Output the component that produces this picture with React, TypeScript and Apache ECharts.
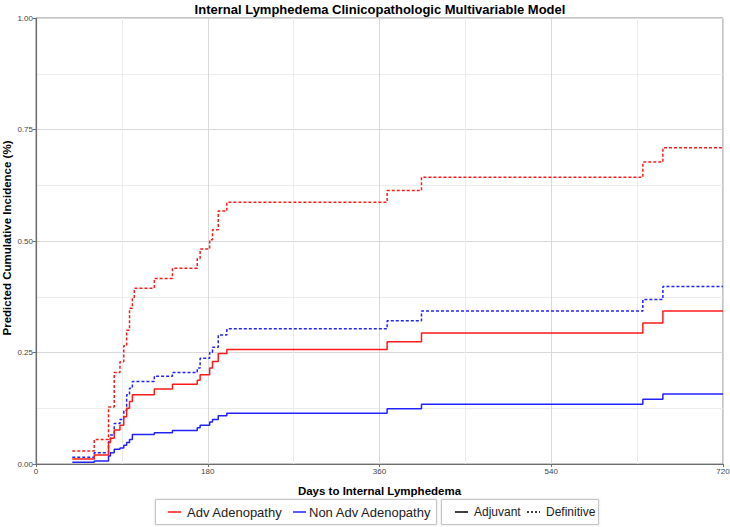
import React, { useEffect, useRef } from "react";
import * as echarts from "echarts";

const TITLE = "Internal Lymphedema Clinicopathologic Multivariable Model";
const X_TITLE = "Days to Internal Lymphedema";
const Y_TITLE = "Predicted Cumulative Incidence (%)";

// shared event times (days)
const days = [38, 61, 76, 78, 82, 88, 92, 95, 98, 101, 103, 124, 143, 169, 172, 182, 185, 191, 200, 368, 404, 636, 657, 720];

const advDefinitive = [0.029, 0.055, 0.128, 0.128, 0.205, 0.229, 0.265, 0.3, 0.349, 0.372, 0.394, 0.416, 0.439, 0.461, 0.482, 0.503, 0.525, 0.567, 0.587, 0.613, 0.643, 0.677, 0.709, 0.709];
const advAdjuvant = [0.011, 0.02, 0.048, 0.058, 0.076, 0.087, 0.106, 0.125, 0.14, 0.155, 0.155, 0.168, 0.179, 0.188, 0.2, 0.215, 0.23, 0.248, 0.257, 0.274, 0.294, 0.316, 0.343, 0.343];
const nonAdvDefinitive = [0.015, 0.025, 0.05, 0.065, 0.091, 0.1, 0.12, 0.155, 0.17, 0.185, 0.185, 0.197, 0.205, 0.215, 0.237, 0.25, 0.262, 0.289, 0.303, 0.321, 0.343, 0.369, 0.398, 0.398];
const nonAdvAdjuvant = [0.004, 0.007, 0.018, 0.025, 0.033, 0.036, 0.042, 0.048, 0.055, 0.066, 0.066, 0.07, 0.075, 0.081, 0.087, 0.094, 0.1, 0.108, 0.114, 0.124, 0.134, 0.145, 0.157, 0.157];

const groupLabels = ["Adv Adenopathy", "Non Adv Adenopathy"];
const treatLabels = ["Adjuvant", "Definitive"];

const RED = "#ff1a1a";
const BLUE = "#2222ff";
const FONT = "Liberation Sans, Arial, sans-serif";

function mk(name: string, vals: number[], color: string, dotted: boolean) {
  return {
    name,
    type: "line",
    step: "end",
    symbol: "none",
    data: days.map((d, i) => [d, vals[i]]),
    lineStyle: { color, width: 1.5, type: dotted ? [3, 2] : "solid" },
    itemStyle: { color },
  };
}

export default function App() {
  const ref = useRef<HTMLDivElement>(null);
  useEffect(() => {
    if (!ref.current) return;
    const chart = echarts.init(ref.current, null, { renderer: "svg" });
    const legendY = 512;
    const legendText = (x: number, t: string, size: number) => ({
      type: "text",
      x,
      y: legendY,
      style: { text: t, font: `${size}px ${FONT}`, fill: "#222", textVerticalAlign: "middle" },
    });
    const legendLine = (x: number, color: string, dotted: boolean) => ({
      type: "line",
      shape: { x1: x, y1: legendY, x2: x + 13, y2: legendY },
      style: { stroke: color, lineWidth: 1.5, lineDash: dotted ? [2, 2] : null },
    });
    chart.setOption({
      animation: false,
      backgroundColor: "#ffffff",
      grid: {
        left: 36,
        right: 7,
        top: 18,
        bottom: 63,
        outerBoundsMode: "none",
        containLabel: false,
        show: true,
        borderColor: "#8a8a8a",
        borderWidth: 1,
        backgroundColor: "#ffffff",
      },
      xAxis: {
        type: "value",
        min: 0,
        max: 720,
        interval: 180,
        name: X_TITLE,
        nameLocation: "middle",
        nameGap: 21,
        nameTextStyle: { fontFamily: FONT, fontSize: 11.5, fontWeight: "bold", color: "#000" },
        axisLine: { show: true, lineStyle: { color: "#6e6e6e", width: 1.2 } },
        axisTick: { show: true, length: 3, lineStyle: { color: "#6e6e6e" } },
        axisLabel: { fontFamily: FONT, fontSize: 8, color: "#444", margin: 3 },
        splitLine: { show: true, lineStyle: { color: "#d9d9d9", width: 1 } },
        minorTick: { show: false, splitNumber: 2 },
        minorSplitLine: { show: true, lineStyle: { color: "#ececec", width: 1 } },
      },
      yAxis: {
        type: "value",
        min: 0,
        max: 1,
        interval: 0.25,
        axisLine: { show: true, lineStyle: { color: "#6e6e6e", width: 1.2 } },
        axisTick: { show: true, length: 3, lineStyle: { color: "#6e6e6e" } },
        axisLabel: {
          fontFamily: FONT,
          fontSize: 8,
          color: "#444",
          margin: 3,
          formatter: (v: number) => v.toFixed(2),
        },
        splitLine: { show: true, lineStyle: { color: "#d9d9d9", width: 1 } },
        minorTick: { show: false, splitNumber: 2 },
        minorSplitLine: { show: true, lineStyle: { color: "#ececec", width: 1 } },
      },
      series: [
        mk("Non Adv Adenopathy - Adjuvant", nonAdvAdjuvant, BLUE, false),
        mk("Non Adv Adenopathy - Definitive", nonAdvDefinitive, BLUE, true),
        mk("Adv Adenopathy - Adjuvant", advAdjuvant, RED, false),
        mk("Adv Adenopathy - Definitive", advDefinitive, RED, true),
      ],
      graphic: [
        {
          type: "text",
          x: 380,
          y: 9,
          style: {
            text: TITLE,
            font: `bold 13px ${FONT}`,
            fill: "#000",
            textAlign: "center",
            textVerticalAlign: "middle",
          },
        },
        {
          type: "text",
          x: 7,
          y: 238,
          rotation: Math.PI / 2,
          style: {
            text: Y_TITLE,
            font: `bold 11.5px ${FONT}`,
            fill: "#000",
            textAlign: "center",
            textVerticalAlign: "middle",
          },
        },
        {
          type: "rect",
          shape: { x: 155.5, y: 499.5, width: 281, height: 25 },
          style: { fill: "#fff", stroke: "#c4c4c4", lineWidth: 1, shadowBlur: 2, shadowColor: "rgba(0,0,0,0.15)" },
        },
        {
          type: "rect",
          shape: { x: 441.5, y: 499.5, width: 157, height: 25 },
          style: { fill: "#fff", stroke: "#c4c4c4", lineWidth: 1, shadowBlur: 2, shadowColor: "rgba(0,0,0,0.15)" },
        },
        legendLine(168, RED, false),
        legendText(187, groupLabels[0], 13),
        legendLine(293, BLUE, false),
        legendText(309, groupLabels[1], 13),
        legendLine(455, "#000", false),
        legendText(474, treatLabels[0], 12),
        legendLine(527, "#000", true),
        legendText(546, treatLabels[1], 12),
      ],
    });
    return () => chart.dispose();
  }, []);
  return (
    <div
      ref={ref}
      style={{ position: "absolute", left: 0, top: 0, width: 730, height: 527 }}
    />
  );
}
